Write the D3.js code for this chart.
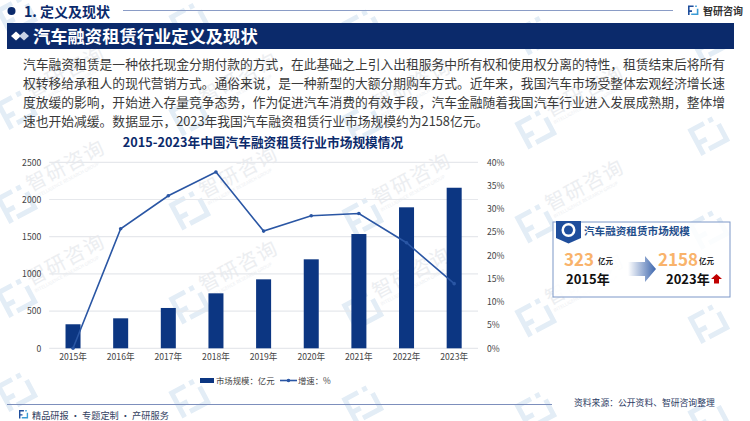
<!DOCTYPE html>
<html><head><meta charset="utf-8">
<script src="https://cdn.jsdelivr.net/npm/d3@7/dist/d3.min.js"></script>
<style>html,body{margin:0;padding:0;background:#fff}svg{display:block}text{font-family:"Noto Sans CJK SC","Noto Sans",sans-serif}</style>
</head><body><svg id="c" width="750" height="421"></svg>
<script>
const years=["2015年","2016年","2017年","2018年","2019年","2020年","2021年","2022年","2023年"];
const marketSize=[323,403,542,739,927,1196,1536,1895,2158];
const growth=[0,25.7,32.8,37.9,25.2,28.5,29.0,22.7,13.9];
const leftTicks=[0,500,1000,1500,2000,2500];
const rightTicks=[0,5,10,15,20,25,30,35,40];
const bodyLines=[
"汽车融资租赁是一种依托现金分期付款的方式，在此基础之上引入出租服务中所有权和使用权分离的特性，租赁结束后将所有",
"权转移给承租人的现代营销方式。通俗来说，是一种新型的大额分期购车方式。近年来，我国汽车市场受整体宏观经济增长速",
"度放缓的影响，开始进入存量竞争态势，作为促进汽车消费的有效手段，汽车金融随着我国汽车行业进入发展成熟期，整体增",
"速也开始减缓。数据显示，2023年我国汽车融资租赁行业市场规模约为2158亿元。"];
const navy="#0b2a6b",bar="#0c3682",line="#2a56a4";
const svg=d3.select("#c");

function logo(g,s,c1,c2){
  g.append("path").attr("fill",c1).attr("d",`M0 0H${7*s}V${2*s}H${2*s}V${6*s}H${5*s}V${8*s}H${2*s}V${12*s}H0Z`);
  g.append("path").attr("fill",c2).attr("d",`M${9*s} 0H${11*s}V${2*s}H${9*s}ZM${9*s} ${4*s}H${11*s}V${10*s}H${4*s}V${12*s}H${13*s}V${4*s}Z`);
}
// watermark tiles
const wm=svg.append("g");
d3.range(0,5).forEach(col=>d3.range(-2,3).forEach(row=>{
  const tx=-12+173*col, ty=190+94*row+6.5*col;
  const g=wm.append("g").attr("transform",`translate(${tx},${ty}) rotate(-28)`);
  const l=g.append("g").attr("transform","translate(3,10)");
  logo(l,2.5,"#e3edf6","#e3edf6");
  if(ty-30>0 && ty+55<421 && tx+125<750){
    g.append("text").attr("x",37).attr("y",22).attr("font-size",20).attr("letter-spacing",1.5).attr("fill","#eceef1").text("智研咨询");
    g.append("text").attr("x",38).attr("y",30).attr("font-size",4.6).attr("fill","#eef0f3").text("INTELLIGENCE RESEARCH GROUP");
  }
}));

// header
svg.append("circle").attr("cx",11.5).attr("cy",11).attr("r",4).attr("fill",navy);
svg.append("text").attr("x",24).attr("y",16.5).attr("font-size",14).attr("font-weight",700).attr("fill",navy).text("1. 定义及现状");
svg.append("line").attr("x1",123).attr("x2",673).attr("y1",10.5).attr("y2",10.5).attr("stroke","#8a9cc6").attr("stroke-width",1);
const lg=svg.append("g").attr("transform","translate(688,5.5)");logo(lg,.8,"#1f4e9c","#3a9bd5");
svg.append("text").attr("x",703).attr("y",14.5).attr("font-size",10).attr("font-weight",700).attr("fill","#333").text("智研咨询");
svg.append("rect").attr("x",7).attr("y",23).attr("width",727).attr("height",26).attr("fill",navy);
svg.append("path").attr("d","M11 36l5-4.5 5 4.5-5 4.5Z").attr("fill","#fff");
svg.append("path").attr("d","M19 36l5-4.5 5 4.5-5 4.5Z").attr("fill","#c9d2e4");
svg.append("text").attr("x",33).attr("y",42.5).attr("font-size",17.3).attr("font-weight",700).attr("fill","#fff").text("汽车融资租赁行业定义及现状");

// body
svg.selectAll(".b").data(bodyLines).join("text").attr("class","b").attr("x",23).attr("y",(d,i)=>69+i*19)
  .attr("font-size",12.78).attr("fill","#3a3a3a").text(d=>d);

// chart
svg.append("text").attr("x",263).attr("y",147).attr("text-anchor","middle").attr("font-size",12.7).attr("font-weight",700).attr("fill",navy).text("2015-2023年中国汽车融资租赁行业市场规模情况");
const x=d3.scaleBand().domain(years).range([49.2,478]).paddingInner(0.685).paddingOuter(0.3425);
const yL=d3.scaleLinear().domain([0,2500]).range([348.3,162.3]);
const yR=d3.scaleLinear().domain([0,40]).range([348.3,162.3]);
svg.append("g").selectAll("line").data(leftTicks).join("line").attr("x1",49.2).attr("x2",478).attr("y1",d=>yL(d)).attr("y2",d=>yL(d)).attr("stroke","#e6e8ec").attr("stroke-width",1.2);
const gLeft=svg.append("g").attr("transform","translate(49.2,0)").call(d3.axisLeft(yL).tickValues(leftTicks).tickFormat(d3.format("d")).tickSize(0).tickPadding(8));
gLeft.select(".domain").remove();
const gRight=svg.append("g").attr("transform","translate(478,0)").call(d3.axisRight(yR).tickValues(rightTicks).tickFormat(d=>d+"%").tickSize(0).tickPadding(9));
gRight.select(".domain").remove();
const gBottom=svg.append("g").attr("transform","translate(0,348.3)").call(d3.axisBottom(x).tickSize(0).tickPadding(6));
gBottom.select(".domain").remove();
[gLeft,gRight,gBottom].forEach(g=>g.selectAll("text").attr("font-size",8.6).attr("fill","#444").style("font-family",'"Noto Sans CJK SC"'));
svg.append("g").selectAll("rect").data(marketSize).join("rect").attr("x",(d,i)=>x(years[i])).attr("width",x.bandwidth()).attr("y",d=>yL(d)).attr("height",d=>yL(0)-yL(d)).attr("fill",bar);
const cx=i=>x(years[i])+x.bandwidth()/2;
svg.append("path").datum(growth).attr("fill","none").attr("stroke",line).attr("stroke-width",1.6)
  .attr("d",d3.line().x((d,i)=>cx(i)).y(d=>yR(d)));
svg.append("g").selectAll("circle").data(growth).join("circle").attr("cx",(d,i)=>cx(i)).attr("cy",d=>yR(d)).attr("r",1.8).attr("fill",line);

// legend
svg.append("rect").attr("x",200).attr("y",378).attr("width",14).attr("height",5).attr("fill",bar);
svg.append("text").attr("x",216).attr("y",384).attr("font-size",8.4).attr("fill","#444").text("市场规模：亿元");
svg.append("line").attr("x1",280).attr("x2",297).attr("y1",380.5).attr("y2",380.5).attr("stroke",line).attr("stroke-width",1.6);
svg.append("circle").attr("cx",288.5).attr("cy",380.5).attr("r",1.8).attr("fill",line);
svg.append("text").attr("x",298).attr("y",384).attr("font-size",8.4).attr("fill","#444").text("增速：%");

// callout
svg.append("rect").attr("x",553).attr("y",222).attr("width",177).attr("height",75).attr("fill","#fff").attr("fill-opacity",.85).attr("stroke","#7d97c8").attr("stroke-width",1);
svg.append("path").attr("d","M556 221H581V238L568.5 243.5L556 238Z").attr("fill","#1f4e9c");
svg.append("circle").attr("cx",568.5).attr("cy",230).attr("r",7).attr("fill","#fff");
svg.append("circle").attr("cx",568.5).attr("cy",230).attr("r",4.5).attr("fill","#1f4e9c");
svg.append("text").attr("x",584).attr("y",235).attr("font-size",10.6).attr("font-weight",700).attr("fill","#1f4e8c").text("汽车融资租赁市场规模");
const defs=svg.append("defs");
const gr=defs.append("linearGradient").attr("id","ag");
gr.append("stop").attr("offset",0).attr("stop-color","#fff");
gr.append("stop").attr("offset",1).attr("stop-color","#3d66ad");
svg.append("path").attr("d","M628 262H645V256L656 269L645 282V276H628Z").attr("fill","url(#ag)");
svg.append("text").attr("x",564).attr("y",266).attr("font-size",17).attr("font-weight",700).attr("fill","#f9b36b").text(marketSize[0]);
svg.append("text").attr("x",598).attr("y",264).attr("font-size",7.5).attr("font-weight",700).attr("fill","#222").text("亿元");
svg.append("text").attr("x",566).attr("y",284).attr("font-size",13).attr("font-weight",700).attr("fill","#111").text("2015年");
svg.append("text").attr("x",658).attr("y",266).attr("font-size",17).attr("font-weight",700).attr("fill","#f9b36b").text(marketSize[8]);
svg.append("text").attr("x",699).attr("y",264).attr("font-size",7.5).attr("font-weight",700).attr("fill","#222").text("亿元");
svg.append("text").attr("x",666).attr("y",284).attr("font-size",13).attr("font-weight",700).attr("fill","#111").text("2023年");
svg.append("path").attr("d","M711 279L716.5 274L722 279H719V283.5H714V279Z").attr("fill","#c00000");

// footer
svg.append("line").attr("x1",7).attr("x2",552).attr("y1",404.5).attr("y2",404.5).attr("stroke","#7d8fbc").attr("stroke-width",1);
const fl=svg.append("g").attr("transform","translate(19,410)");logo(fl,.7,"#1f4e9c","#3a9bd5");
svg.append("text").attr("x",32).attr("y",418.5).attr("font-size",9.2).attr("fill","#33415f").text("精品研报 · 专题定制 · 产研服务");
svg.append("text").attr("x",574).attr("y",406).attr("font-size",8.8).attr("fill","#2b3a63").text("资料来源：公开资料、智研咨询整理");
</script></body></html>
